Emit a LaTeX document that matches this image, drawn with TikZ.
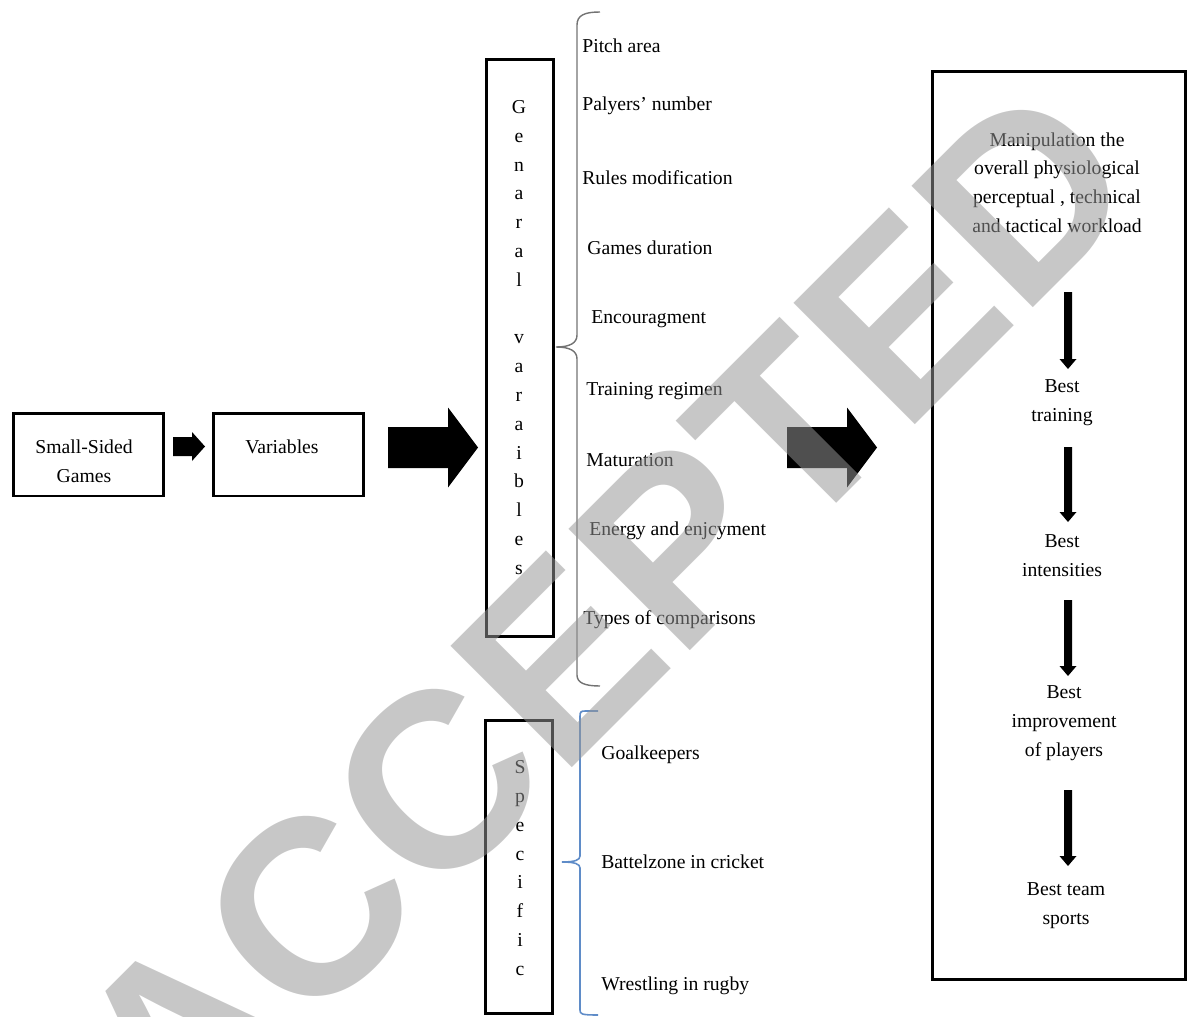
\documentclass[tikz,border=0pt]{standalone}
\usepackage{fontspec}
\setmainfont{Liberation Serif}
\newfontfamily\wmfont{Liberation Sans}
\definecolor{bracegray}{RGB}{115,115,115}
\definecolor{braceblue}{RGB}{95,140,200}
\definecolor{wmgray}{gray}{0.59}
\begin{document}
\begin{tikzpicture}[x=0.02cm,y=-0.02cm,
  every node/.style={font=\fontsize{11.2}{16.4}\selectfont},
  box/.style={draw, line width=1.7pt, inner sep=0pt, rectangle},
  lbl/.style={inner sep=0pt, align=center},
  item/.style={inner sep=0pt, anchor=west},
  gbrace/.style={draw=bracegray, line width=0.8pt},
  sbrace/.style={draw=braceblue, line width=0.9pt},
  downarr/.pic={\fill[black] (-4,0) -- (4,0) -- (4,#1) -- (8.5,#1) -- (0,#1+10) -- (-8.5,#1) -- (-4,#1) -- cycle;},
  bigarr/.pic={\fill[black] (0,-20.5) -- (60,-20.5) -- (60,-40) -- (90,0) -- (60,40) -- (60,20.5) -- (0,20.5) -- cycle;},
]
\useasboundingbox (0,0) rectangle (1191,1017);

% boxes
\node[box, minimum width=3.0cm, minimum height=1.65cm] (sgs) at (88.5,454.75) {};
\node[lbl] (sgst) at (84,461) {Small-Sided\\Games};
\node[box, minimum width=3.0cm, minimum height=1.65cm] (var) at (288.5,454.75) {};
\node[lbl] (vart) at (282,447) {Variables};
\node[box, minimum width=1.34cm, minimum height=11.54cm] (gen) at (520,348) {};
\node[lbl] (gent) at (519,337.5) {G\\e\\n\\a\\r\\a\\l\\~\\v\\a\\r\\a\\i\\b\\l\\e\\s};
\node[box, minimum width=1.34cm, minimum height=5.86cm] (spec) at (519,867) {};
\node[lbl] (spect) at (520,868) {S\\p\\e\\c\\i\\f\\i\\c};
\node[box, minimum width=5.06cm, minimum height=18.16cm] (res) at (1059,525.5) {};

% block arrows
\fill[black] (173,437) -- (192,437) -- (192,432) -- (205,446.5) -- (192,461) -- (192,456) -- (173,456) -- cycle;
\pic at (388,447.5) {bigarr};
\pic at (787,447.5) {bigarr};

% general brace
\path[gbrace] (600,12) .. controls (585,12) and (577,15) .. (577,25) -- (577,335)
  .. controls (577,343) and (570,347) .. (556,347)
  .. controls (570,347) and (577,351) .. (577,359) -- (577,675)
  .. controls (577,683) and (585,686) .. (600,686);
% specific brace
\path[sbrace] (598,711) -- (585,711) .. controls (581,711) and (580,712) .. (580,716) -- (580,856)
  .. controls (580,860) and (575,862) .. (562,862)
  .. controls (575,862) and (580,864) .. (580,868) -- (580,1010)
  .. controls (580,1014) and (581,1015) .. (598,1015);

% general items
\node[item] (i1) at (582,46) {Pitch area};
\node[item] (i2) at (582,106) {Palyers’ number};
\node[item] (i3) at (582,178) {Rules modification};
\node[item] (i4) at (587,248) {Games duration};
\node[item] (i5) at (591,319) {Encouragment};
\node[item] (i6) at (586,391) {Training regimen};
\node[item] (i7) at (586,460) {Maturation};
\node[item] (i8) at (589,531) {Energy and enjcyment};
\node[item] (i9) at (583,620) {Types of comparisons};
% specific items
\node[item] (s1) at (601,755) {Goalkeepers};
\node[item] (s2) at (601,862) {Battelzone in cricket};
\node[item] (s3) at (601,986) {Wrestling in rugby};

% right column
\node[lbl] (r0) at (1057,182.5) {Manipulation the\\overall physiological\\perceptual , technical\\and tactical workload};
\pic at (1068,292) {downarr=67};
\node[lbl] (r1) at (1062,403) {Best\\training};
\pic at (1068,447) {downarr=65};
\node[lbl] (r2) at (1062,555.5) {Best\\intensities};
\pic at (1068,600) {downarr=66};
\node[lbl] (r3) at (1064,723) {Best\\improvement\\of players};
\pic at (1068,790) {downarr=66};
\node[lbl] (r4) at (1066,905.5) {Best team\\sports};

% watermark
\node[rotate=45, text=wmgray, opacity=0.53, inner sep=0pt,
  font=\wmfont\bfseries\fontsize{142}{142}\selectfont] (wm) at (603,616) {ACCEPTED};
\end{tikzpicture}
\end{document}
